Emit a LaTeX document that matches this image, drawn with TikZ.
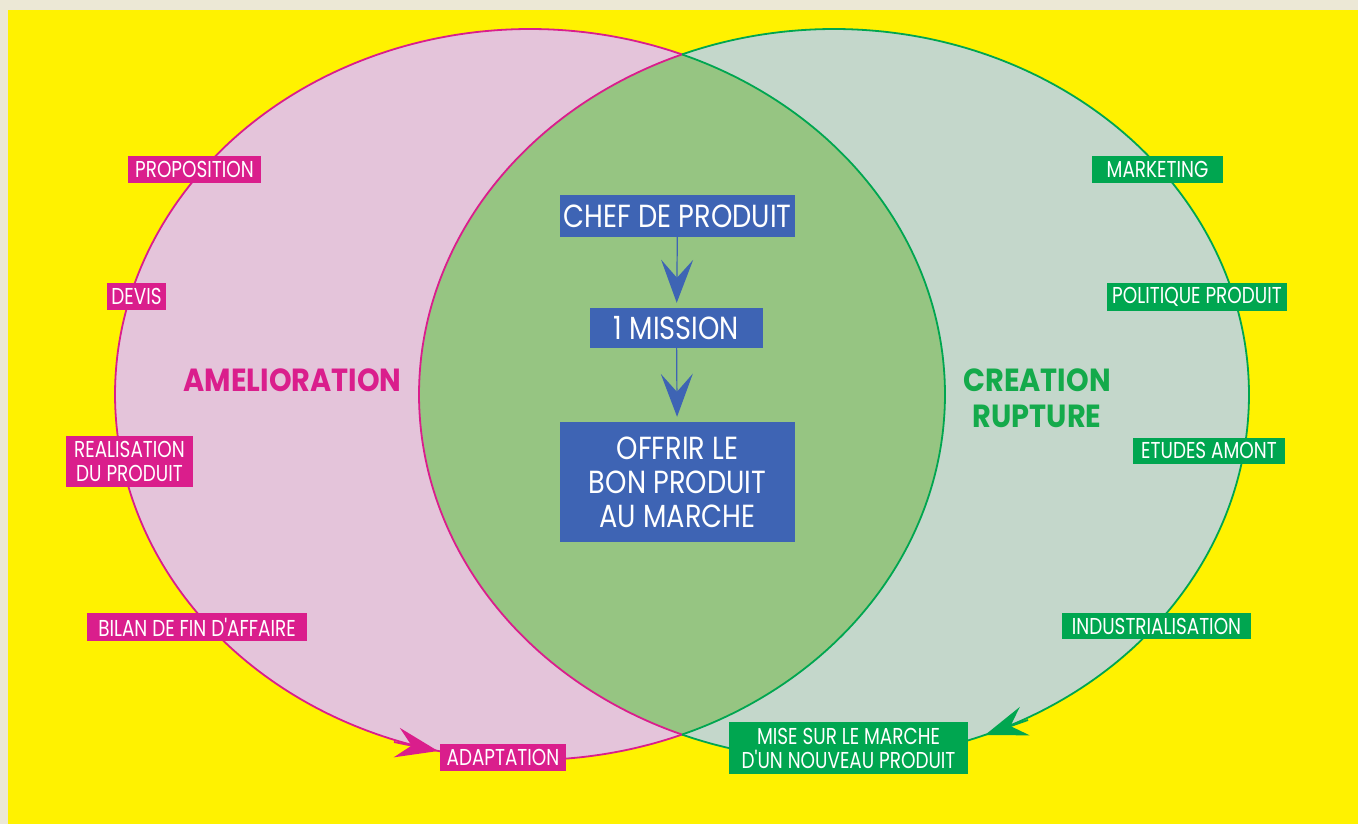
\documentclass[tikz,border=0pt]{standalone}
\usepackage{fontspec}
\setmainfont{Poppins}[FakeStretch=0.85, Ligatures=TeXOff]
\newfontfamily\lblfont{Poppins}[FakeStretch=0.8, Ligatures=TeXOff]
\newfontfamily\titlefont{Poppins}[FakeStretch=0.9]
\usetikzlibrary{arrows.meta}
\definecolor{beige}{RGB}{236,232,214}
\definecolor{bgyellow}{RGB}{255,242,0}
\definecolor{pinkfill}{RGB}{228,196,218}
\definecolor{rightfill}{RGB}{196,215,203}
\definecolor{lensfill}{RGB}{150,197,130}
\definecolor{mag}{RGB}{218,30,140}
\definecolor{grn}{RGB}{0,166,80}
\definecolor{titlegrn}{RGB}{20,170,75}
\definecolor{blu}{RGB}{62,100,180}
\tikzset{
  lbl/.style={inner sep=0pt, text=white, align=center, font=\lblfont\fontsize{23}{24}\selectfont},
  magbox/.style={lbl, fill=mag},
  grnbox/.style={lbl, fill=grn},
  blubox/.style={inner sep=0pt, fill=blu, text=white, align=center, font=\fontsize{32}{34}\selectfont},
  outline/.style={line width=1.8pt},
  bluearrow/.style={draw=blu, line width=1.2pt, shorten >=5pt, -{Stealth[length=43pt, width=32pt, inset=18pt]}},
  cyclearrow/.style={line width=1.8pt, -{Stealth[length=42pt, width=30pt, inset=15pt]}},
  title/.style={font=\titlefont\bfseries\fontsize{32}{36}\selectfont, align=center}
}
\begin{document}
\begin{tikzpicture}[x=1pt, y=-1pt]
\useasboundingbox (0,0) rectangle (1358,824);
\fill[beige] (0,0) rectangle (1358,824);
\fill[bgyellow] (8,10) rectangle (1358,824);
\def\lx{530}\def\rx{834}\def\cy{394.5}\def\ax{415}\def\ay{365.5}
% fills
\fill[pinkfill] (\lx,\cy) ellipse [x radius=\ax, y radius=\ay];
\fill[rightfill] (\rx,\cy) ellipse [x radius=\ax, y radius=\ay];
\begin{scope}
  \clip (\lx,\cy) ellipse [x radius=\ax, y radius=\ay];
  \fill[lensfill] (\rx,\cy) ellipse [x radius=\ax, y radius=\ay];
\end{scope}
% outlines
\draw[outline, mag] plot[domain=68.52:291.48, samples=150, smooth, variable=\t] ({\lx+\ax*cos(\t)},{\cy+\ay*sin(\t)});
\draw[outline, mag] plot[domain=111.48:248.52, samples=80, smooth, variable=\t] ({\rx+\ax*cos(\t)},{\cy+\ay*sin(\t)});
\draw[outline, grn] plot[domain=-111.48:111.48, samples=150, smooth, variable=\t] ({\rx+\ax*cos(\t)},{\cy+\ay*sin(\t)});
\draw[outline, grn] plot[domain=-68.52:68.52, samples=80, smooth, variable=\t] ({\lx+\ax*cos(\t)},{\cy+\ay*sin(\t)});
% cycle arrows
\coordinate (magtail) at (394,742);
\coordinate (magtip) at (438,751);
\coordinate (grntail) at (1028,720);
\coordinate (grntip) at (985,735);
\draw[cyclearrow, mag, fill=mag] (magtail) -- (magtip);
\draw[cyclearrow, grn, fill=grn] (grntail) -- (grntip);
% titles
\node[title, text=mag] (amel) at (292.5,380) {AMELIORATION};
\node[title, text=titlegrn] (crea) at (1037,398.5) {CREATION\\RUPTURE};
% left labels
\node[magbox, minimum width=133pt, minimum height=27pt] (prop) at (194.5,169.5) {PROPOSITION};
\node[magbox, minimum width=59pt, minimum height=27pt] (devis) at (136.5,296.5) {DEVIS};
\node[magbox, minimum width=127pt, minimum height=51pt] (real) at (129.5,461.5) {REALISATION\\DU PRODUIT};
\node[magbox, minimum width=220pt, minimum height=28pt] (bilan) at (197,627) {BILAN DE FIN D'AFFAIRE};
\node[magbox, minimum width=126pt, minimum height=27pt] (adapt) at (503,757.5) {ADAPTATION};
% right labels
\node[grnbox, minimum width=131pt, minimum height=27pt] (mkt) at (1157.5,169.5) {MARKETING};
\node[grnbox, minimum width=180pt, minimum height=28pt] (pol) at (1197,297) {POLITIQUE PRODUIT};
\node[grnbox, minimum width=152pt, minimum height=26pt] (etu) at (1209,450.5) {ETUDES AMONT};
\node[grnbox, minimum width=189pt, minimum height=26pt] (ind) at (1156.5,626) {INDUSTRIALISATION};
\node[grnbox, minimum width=239pt, minimum height=52pt] (mise) at (848.5,748) {MISE SUR LE MARCHE\\D'UN NOUVEAU PRODUIT};
% centre
\node[blubox, minimum width=235pt, minimum height=42pt] (chef) at (677.5,216) {CHEF DE PRODUIT};
\node[blubox, minimum width=173pt, minimum height=40pt] (miss) at (676.5,328) {1 MISSION};
\node[blubox, minimum width=235pt, minimum height=120pt] (offr) at (677.5,482) {OFFRIR LE\\BON PRODUIT\\AU MARCHE};
\draw[bluearrow] (chef) -- (miss);
\draw[bluearrow] (miss) -- (offr);
\end{tikzpicture}
\end{document}
